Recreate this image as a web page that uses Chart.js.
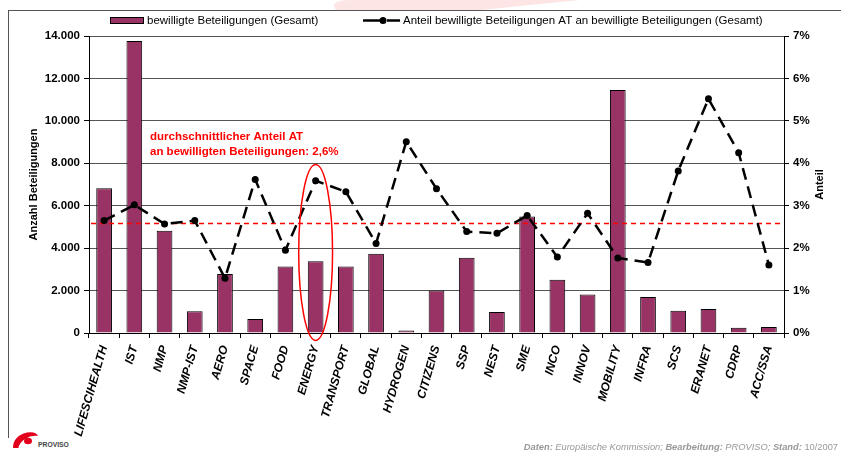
<!DOCTYPE html>
<html>
<head>
<meta charset="utf-8">
<script src="https://cdn.jsdelivr.net/npm/chart.js@4/dist/chart.umd.min.js"></script>
<style>
  html, body { margin: 0; padding: 0; background: #fff; }
  #wrap { position: relative; width: 841px; height: 455px; overflow: hidden; }
  #deco { position: absolute; left: 0; top: 0; }
  #c { position: absolute; left: 0; top: 0; }
  #frame { position: absolute; left: 8px; top: 10px; width: 840px; height: 427px;
           border-top: 1px solid #555; border-left: 1px solid #555; }
  #footer { position: absolute; right: 3px; top: 442px; font-family: 'Liberation Sans', Arial, sans-serif;
            font-size: 9.3px; color: #999; font-style: italic; white-space: nowrap; }
  #footer b { font-weight: bold; }
  #footer span.n { font-style: normal; }
</style>
</head>
<body>
<div id="wrap">
  <svg id="deco" width="841" height="455" xmlns="http://www.w3.org/2000/svg">
    <path d="M 336 10 Q 328 0 352 0 L 580 0 Q 530 5 482 10 Z" fill="#fde5e5"/>
    <path d="M 13 448 Q 13 436 27 432.5 Q 36 431 38 436 Q 31 435 25 439 Q 19 443 18.5 448 Z" fill="#e3001b"/>
    <ellipse cx="28" cy="441" rx="4" ry="3.2" fill="#e3001b"/>
    <text x="38" y="447" font-family="Liberation Sans, Arial, sans-serif" font-size="8" font-weight="bold" fill="#444" transform="translate(38 0) scale(0.85 1) translate(-38 0)">PROVISO</text>
  </svg>
  <div id="frame"></div>
  <canvas id="c" width="841" height="455"></canvas>
  <div id="footer"><b>Daten:</b> Europäische Kommission; <b>Bearbeitung:</b> PROVISO; <b>Stand:</b> <span class="n">10/2007</span></div>
</div>
<script>
const categories = ['LIFESCIHEALTH','IST','NMP','NMP-IST','AERO','SPACE','FOOD','ENERGY','TRANSPORT','GLOBAL','HYDROGEN','CITIZENS','SSP','NEST','SME','INCO','INNOV','MOBILITY','INFRA','SCS','ERANET','CDRP','ACC/SSA'];
const participations = [6820,13770,4820,1020,2780,660,3130,3380,3130,3740,120,2000,3550,990,5490,2510,1820,11460,1700,1050,1130,250,280];
const shareAT = [2.65,3.02,2.57,2.65,1.29,3.62,1.95,3.59,3.33,2.11,4.51,3.40,2.39,2.35,2.77,1.79,2.82,1.77,1.66,3.82,5.52,4.25,1.60];
const averageShare = 2.6;
const barLabel = 'bewilligte Beteiligungen (Gesamt)';
const lineLabel = 'Anteil bewilligte Beteiligungen AT an bewilligte Beteiligungen (Gesamt)';
const leftTitle = 'Anzahl Beteiligungen';
const rightTitle = 'Anteil';
const noteLines = ['durchschnittlicher Anteil AT', 'an bewilligten Beteiligungen: 2,6%'];
const highlightCategory = 'ENERGY';

const FONT = "'Liberation Sans', Arial, sans-serif";
const BAR_COLOR = '#993366';

function fmtThousands(v) {
  return String(v).replace(/\B(?=(\d{3})+(?!\d))/g, '.');
}

const overlay = {
  id: 'overlay',
  afterDatasetDraw(chart, args) {
    if (args.index !== 0) return;
    const { ctx, chartArea: a, scales: { y1 } } = chart;
    const yy = Math.round(y1.getPixelForValue(averageShare)) + 0.5;
    ctx.save();
    ctx.strokeStyle = '#ff0000';
    ctx.lineWidth = 1.5;
    ctx.setLineDash([5, 4]);
    ctx.beginPath();
    ctx.moveTo(a.left + 2, yy);
    ctx.lineTo(a.right, yy);
    ctx.stroke();
    ctx.restore();
  },
  afterDraw(chart) {
    const { ctx, chartArea: a, scales: { x, y } } = chart;
    ctx.save();
    // ellipse around highlighted category
    const idx = categories.indexOf(highlightCategory);
    const cx = x.getPixelForValue(idx);
    const half = (x.getPixelForValue(idx + 1) - x.getPixelForValue(idx)) * 0.56;
    const yTop = y.getPixelForValue(7940), yBot = y.getPixelForValue(-350);
    ctx.strokeStyle = '#ff0000';
    ctx.lineWidth = 1.5;
    ctx.beginPath();
    ctx.ellipse(cx, (yTop + yBot) / 2, half, (yBot - yTop) / 2, 0, 0, Math.PI * 2);
    ctx.stroke();

    // note text
    ctx.fillStyle = '#ff0000';
    ctx.font = 'bold 11.5px ' + FONT;
    ctx.textAlign = 'left';
    ctx.textBaseline = 'middle';
    ctx.fillText(noteLines[0], 150, 137);
    ctx.fillText(noteLines[1], 150, 152);

    // axis titles
    ctx.fillStyle = '#000';
    ctx.font = 'bold 11px ' + FONT;
    ctx.textAlign = 'center';
    ctx.save();
    ctx.translate(34, (a.top + a.bottom) / 2);
    ctx.rotate(-Math.PI / 2);
    ctx.fillText(leftTitle, 0, 0);
    ctx.restore();
    ctx.save();
    ctx.translate(820, (a.top + a.bottom) / 2);
    ctx.rotate(-Math.PI / 2);
    ctx.fillText(rightTitle, 0, 0);
    ctx.restore();

    // legend
    ctx.fillStyle = BAR_COLOR;
    ctx.fillRect(110, 17, 34, 7);
    ctx.strokeStyle = '#000';
    ctx.lineWidth = 1;
    ctx.strokeRect(110.5, 17.5, 33, 6);
    ctx.fillStyle = '#000';
    ctx.font = '11.5px ' + FONT;
    ctx.textAlign = 'left';
    ctx.fillText(barLabel, 147, 21);

    ctx.lineWidth = 2.5;
    ctx.beginPath();
    ctx.moveTo(363, 20.5); ctx.lineTo(381, 20.5);
    ctx.moveTo(387, 20.5); ctx.lineTo(400, 20.5);
    ctx.stroke();
    ctx.beginPath();
    ctx.arc(383, 20.5, 3.5, 0, Math.PI * 2);
    ctx.fill();
    ctx.fillText(lineLabel, 403, 21);
    ctx.restore();
  }
};

new Chart(document.getElementById('c'), {
  data: {
    labels: categories,
    datasets: [
      {
        type: 'bar',
        label: barLabel,
        data: participations,
        yAxisID: 'y',
        backgroundColor: BAR_COLOR,
        borderColor: '#000',
        borderWidth: 1,
        categoryPercentage: 1,
        barPercentage: 0.52,
        order: 2
      },
      {
        type: 'line',
        label: lineLabel,
        data: shareAT,
        yAxisID: 'y1',
        borderColor: '#000',
        borderWidth: 2.5,
        borderDash: [12, 7],
        pointRadius: 3.5,
        pointBackgroundColor: '#000',
        pointBorderWidth: 0,
        tension: 0,
        order: 1
      }
    ]
  },
  options: {
    responsive: false,
    animation: false,
    events: [],
    layout: { padding: { top: 36, left: 0, right: 0, bottom: 0 } },
    plugins: { legend: { display: false }, tooltip: { enabled: false } },
    scales: {
      x: {
        offset: true,
        grid: { drawOnChartArea: false, offset: true, tickLength: 5, color: '#000', lineWidth: 1 },
        border: { display: true, color: '#000', width: 1 },
        ticks: {
          autoSkip: false, minRotation: 74, maxRotation: 74, padding: 6,
          color: '#000', font: { family: FONT, size: 12, weight: 'bold', style: 'italic' }
        },
        afterFit(s) { s.height = 122; }
      },
      y: {
        position: 'left',
        min: 0, max: 14000,
        grid: { color: '#555', lineWidth: 1, tickColor: '#000', tickLength: 5 },
        border: { display: true, color: '#000', width: 1 },
        ticks: {
          stepSize: 2000, padding: 4, color: '#000',
          font: { family: FONT, size: 11.5, weight: 'bold' },
          callback: v => fmtThousands(v)
        },
        afterFit(s) { s.width = 89; }
      },
      y1: {
        position: 'right',
        min: 0, max: 7,
        grid: { drawOnChartArea: false, tickColor: '#000', tickLength: 5 },
        border: { display: true, color: '#000', width: 1 },
        ticks: {
          stepSize: 1, padding: 4, color: '#000',
          font: { family: FONT, size: 11.5, weight: 'bold' },
          callback: v => v + '%'
        },
        afterFit(s) { s.width = 57; }
      }
    }
  },
  plugins: [overlay]
});
</script>
</body>
</html>
